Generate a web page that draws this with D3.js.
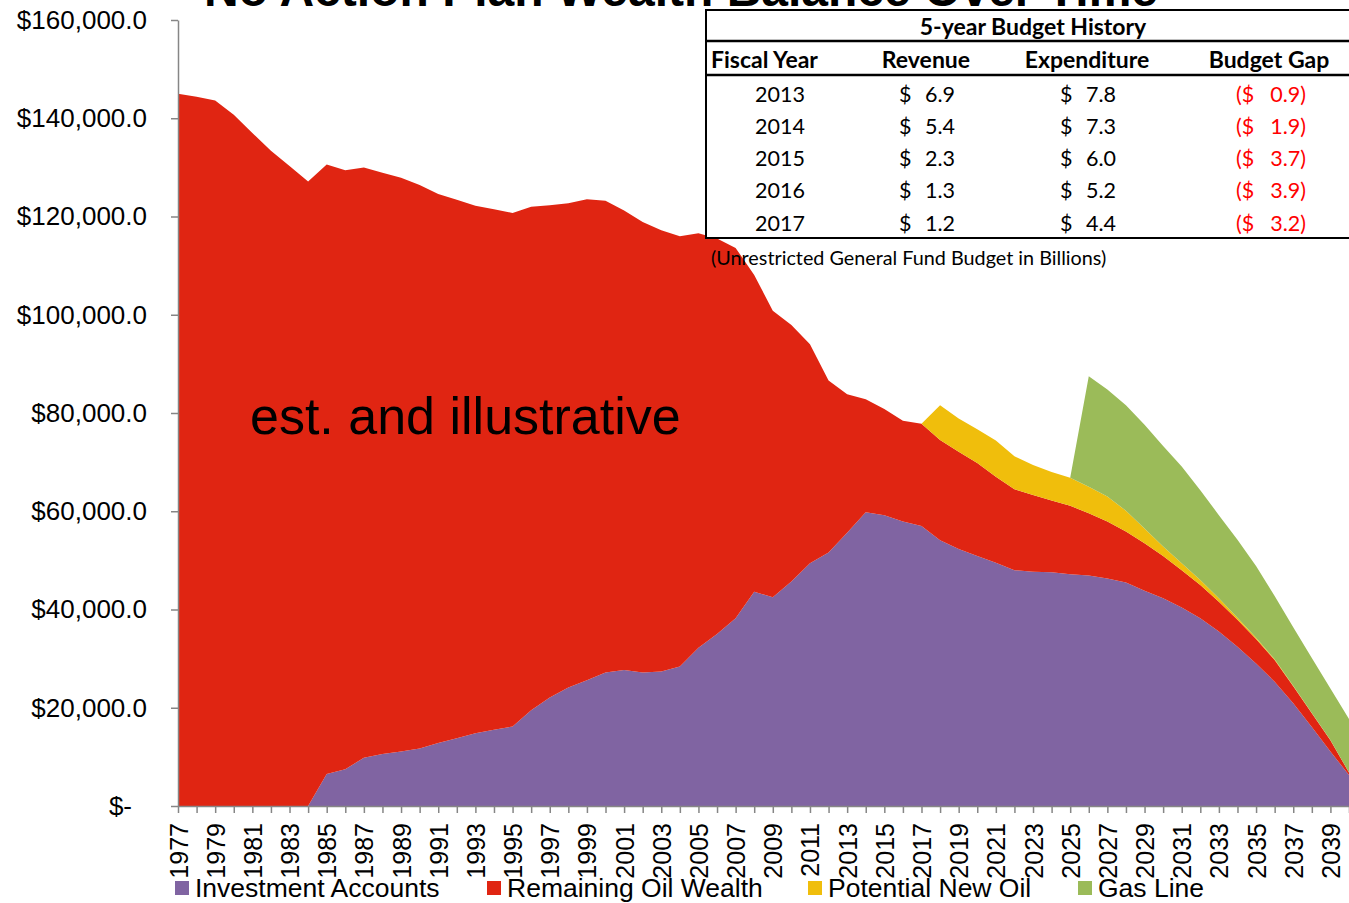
<!DOCTYPE html>
<html>
<head>
<meta charset="utf-8">
<script src="https://cdn.jsdelivr.net/npm/d3@7"></script>
<style>
  body { margin: 0; background: #fff; }
  svg { display: block; }
</style>
</head>
<body>
<div id="chart"></div>
<script>
// years on the category axis
const years = d3.range(1977, 2041);

// stacked series, one value per year (1977..2040)
const investmentAccounts = [
  0, 0, 0, 0, 0, 0, 0, 0,
  6500, 7500, 9800, 10600, 11100, 11700,
  12800, 13800, 14800, 15500, 16200,
  19500, 22100, 24100, 25600, 27200,
  27700, 27200, 27400, 28400, 32200,
  35000, 38200, 43600, 42500, 45700,
  49400, 51600, 55600, 59800, 59200,
  57900, 57000, 54100, 52300, 50900,
  49500, 48000, 47700, 47600, 47200,
  46900, 46300, 45500, 43800, 42300,
  40400, 38200, 35500, 32400, 29000,
  25300, 20900, 16100, 11100, 6300
];
const remainingOilWealth = [
  145000, 144400, 143600, 140700, 137000, 133400, 130300, 127100,
  124100, 121900, 120200, 118300, 116800, 114700,
  111800, 109600, 107400, 106000, 104500,
  102500, 100200, 98600, 97900, 96000,
  93500, 91700, 89800, 87600, 84400,
  80500, 75400, 64500, 58300, 52200,
  44600, 35000, 28200, 23000, 21600,
  20500, 20800, 20400, 19800, 18900,
  17500, 16500, 15600, 14600, 13900,
  12700, 11600, 10400, 9700, 8600,
  7600, 6800, 6100, 5500, 5000,
  4400, 3500, 2800, 2300, 500
];
// these two only start later
const newOilStart = 2017;
const potentialNewOil = [
  0, 7100, 6800, 6900, 7400, 6700, 6100, 5800, 5700,
  5400, 5100, 4200, 3000, 1900, 1400, 1000, 700, 400,
  250, 150, 100, 50, 30, 0
];
const gasStart = 2025;
const gasLine = [
  0, 22500, 21800, 21500, 21100, 20500, 19700, 18300,
  16900, 15900, 14600, 12900, 11900, 11200, 10500, 10900
];

const yTicks = [0, 20000, 40000, 60000, 80000, 100000, 120000, 140000, 160000];

// budget table
const fiscalYears = [2013, 2014, 2015, 2016, 2017];
const revenue = [6.9, 5.4, 2.3, 1.3, 1.2];
const expenditure = [7.8, 7.3, 6.0, 5.2, 4.4];
const budgetGap = [0.9, 1.9, 3.7, 3.9, 3.2];

const keys = ["Investment Accounts", "Remaining Oil Wealth", "Potential New Oil", "Gas Line"];
const colors = ["#8064A2", "#E02512", "#F0BE0C", "#9BBB59"];

const rows = years.map((yr, i) => ({
  year: yr,
  "Investment Accounts": investmentAccounts[i],
  "Remaining Oil Wealth": remainingOilWealth[i],
  "Potential New Oil": yr >= newOilStart ? potentialNewOil[yr - newOilStart] : null,
  "Gas Line": yr >= gasStart ? gasLine[yr - gasStart] : null
}));

const width = 1349, height = 903;
const svg = d3.select("#chart").append("svg")
  .attr("width", width)
  .attr("height", height);

const x = d3.scalePoint().domain(years).range([178, 1349]);
const y = d3.scaleLinear().domain([0, 160000]).range([806, 20]);

const stack = d3.stack().keys(keys).value((d, k) => d[k] == null ? 0 : d[k]);
const series = stack(rows);

const area = d3.area()
  .defined(d => d.defined)
  .x(d => x(d.data.year))
  .y0(d => y(d[0]))
  .y1(d => y(d[1]));

svg.append("g").selectAll("path")
  .data(series)
  .join("path")
  .attr("fill", (d, i) => colors[i])
  .attr("d", s => {
    s.forEach(p => { p.defined = p.data[s.key] != null; });
    return area(s);
  });

// axes
const yAxis = svg.append("g")
  .attr("transform", "translate(178,0)")
  .call(d3.axisLeft(y).tickValues(yTicks).tickSize(7).tickSizeOuter(0).tickPadding(24)
    .tickFormat(d => d === 0 ? "$-" : d3.format("$,.1f")(d)));
yAxis.selectAll("text")
  .style("font-family", "Liberation Sans, Arial, sans-serif")
  .style("font-size", "26px")
  .attr("fill", "#000")
  .attr("dx", d => d === 0 ? -15 : 0);

const xAxis = svg.append("g")
  .attr("transform", "translate(0,806)")
  .call(d3.axisBottom(x).tickValues(years).tickSize(7).tickSizeOuter(0)
    .tickFormat(d => (d - 1977) % 2 === 0 ? d : ""));
xAxis.selectAll("text")
  .attr("transform", "rotate(-90)")
  .attr("x", -17)
  .attr("y", 0)
  .attr("dy", "0.36em")
  .attr("text-anchor", "end")
  .attr("fill", "#000")
  .style("font-family", "Liberation Sans, Arial, sans-serif")
  .style("font-size", "25px");

svg.selectAll(".domain, .tick line").attr("stroke", "#868686").attr("stroke-width", 1.5);

// title, mostly cut off at the top
svg.append("text")
  .attr("x", 681)
  .attr("y", 6)
  .attr("text-anchor", "middle")
  .style("font-family", "Liberation Sans, Arial, sans-serif")
  .style("font-size", "48px")
  .style("font-weight", "bold")
  .text("No Action Plan Wealth Balance Over Time");

svg.append("text")
  .attr("x", 250)
  .attr("y", 434)
  .style("font-family", "Liberation Sans, Arial, sans-serif")
  .style("font-size", "52px")
  .text("est. and illustrative");

// legend
const legendX = [175, 487, 808, 1078];
const legend = svg.append("g");
keys.forEach((k, i) => {
  legend.append("rect")
    .attr("x", legendX[i]).attr("y", 881)
    .attr("width", 14).attr("height", 14)
    .attr("fill", colors[i]);
  legend.append("text")
    .attr("x", legendX[i] + 20).attr("y", 888)
    .attr("dy", "0.35em")
    .style("font-family", "Liberation Sans, Arial, sans-serif")
    .style("font-size", "26.5px")
    .text(k);
});

// budget table
const tbl = svg.append("g").style("font-family", "Lato, sans-serif");
tbl.append("rect")
  .attr("x", 706).attr("y", 10).attr("width", 680).attr("height", 228)
  .attr("fill", "#fff").attr("stroke", "#000").attr("stroke-width", 2);
[41, 75].forEach(ly => {
  tbl.append("line").attr("x1", 706).attr("x2", 1360).attr("y1", ly).attr("y2", ly)
    .attr("stroke", "#000").attr("stroke-width", 2.5);
});
tbl.append("text").attr("x", 1033).attr("y", 27).attr("dy", "0.35em")
  .attr("text-anchor", "middle").style("font-weight", "bold").style("font-size", "23px")
  .text("5-year Budget History");

const headers = [
  { t: "Fiscal Year", x: 711, a: "start" },
  { t: "Revenue", x: 926, a: "middle" },
  { t: "Expenditure", x: 1087, a: "middle" },
  { t: "Budget Gap", x: 1269, a: "middle" }
];
headers.forEach(h => {
  tbl.append("text").attr("x", h.x).attr("y", 60).attr("dy", "0.35em")
    .attr("text-anchor", h.a).style("font-weight", "bold").style("font-size", "23px")
    .text(h.t);
});

const rowY = d3.scalePoint().domain(fiscalYears).range([94, 223]);
const fmt = d3.format(".1f");
fiscalYears.forEach((fy, i) => {
  const g = tbl.append("g").attr("transform", `translate(0,${rowY(fy)})`).style("font-size", "21.5px");
  g.append("text").attr("x", 780).attr("dy", "0.35em").attr("text-anchor", "middle").text(fy);
  g.append("text").attr("x", 899).attr("dy", "0.35em").text("$");
  g.append("text").attr("x", 955).attr("dy", "0.35em").attr("text-anchor", "end").text(fmt(revenue[i]));
  g.append("text").attr("x", 1060).attr("dy", "0.35em").text("$");
  g.append("text").attr("x", 1116).attr("dy", "0.35em").attr("text-anchor", "end").text(fmt(expenditure[i]));
  g.append("text").attr("x", 1236).attr("dy", "0.35em").attr("fill", "#FF0000").text("($");
  g.append("text").attr("x", 1306).attr("dy", "0.35em").attr("text-anchor", "end").attr("fill", "#FF0000")
    .text(fmt(budgetGap[i]) + ")");
});

tbl.append("text").attr("x", 711).attr("y", 258).attr("dy", "0.35em")
  .style("font-size", "19.8px")
  .text("(Unrestricted General Fund Budget in Billions)");
</script>
</body>
</html>
